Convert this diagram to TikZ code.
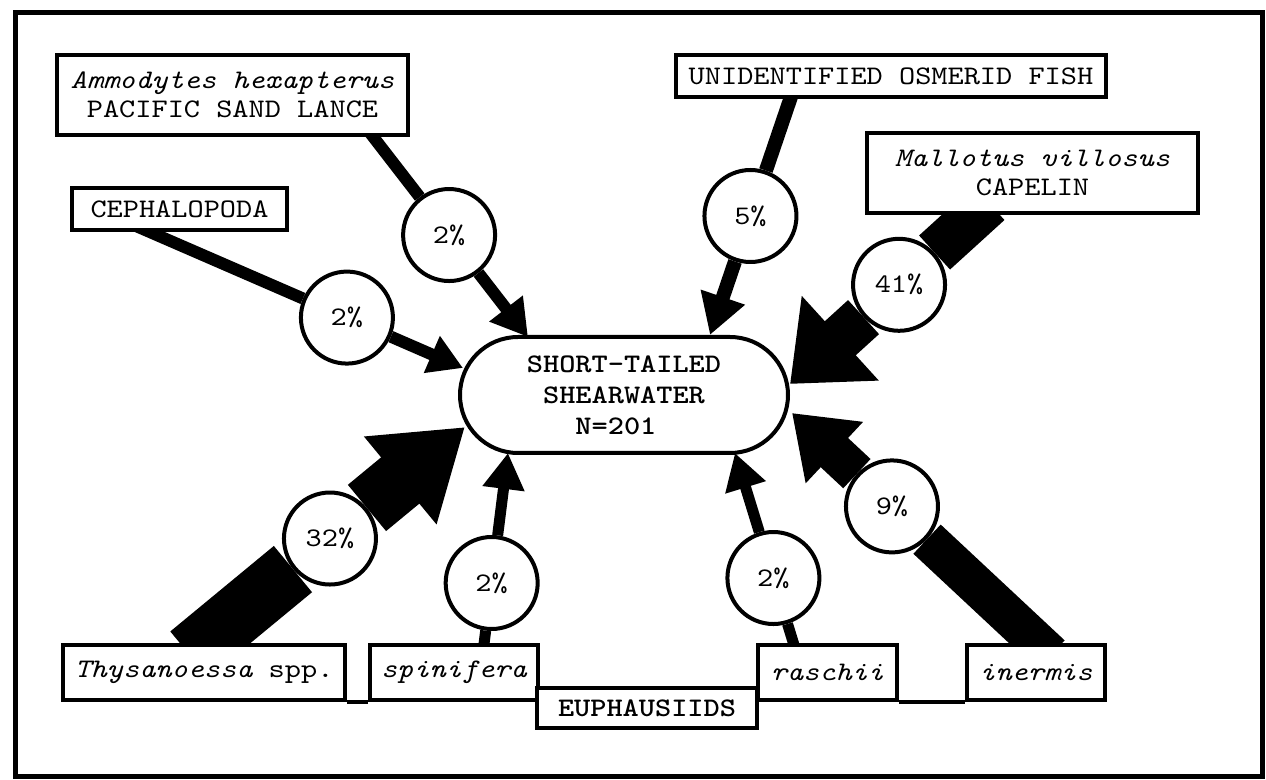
\documentclass[tikz,border=0pt]{standalone}
\usepackage{fontspec}
\setmonofont{lmmono10-regular.otf}[ItalicFont=lmmono10-italic.otf,BoldFont=lmmonolt10-bold.otf,FakeStretch=1.15]
\usetikzlibrary{arrows.meta,shapes.misc,calc}
\pgfdeclarelayer{back}
\pgfsetlayers{back,main}

\begin{document}
\begin{tikzpicture}[x=0.5pt,y=-0.5pt,
				every node/.style={font=\ttfamily\fontsize{13.4}{14.5}\selectfont,inner sep=0pt},
				box/.style={draw,line width=2pt,fill=white,align=center},
				pct/.style={circle,draw,line width=2pt,fill=white,minimum size=46pt},
				bar/.style={line width=#1},
				flow/.style n args={3}{line width=#1,-{Triangle[length=#2,width=#3]}}]
\useasboundingbox (0,0) rectangle (1266,780);
\draw[line width=2.5pt] (15,12.5) rectangle (1262,777);

% prey boxes
\node[box,minimum width=175.5pt,minimum height=40pt] (sand) at (232.5,95) {{\itshape Ammodytes hexapterus}\\PACIFIC SAND LANCE};
\node[box,minimum width=107.5pt,minimum height=21pt] (ceph) at (179.5,209) {CEPHALOPODA};
\node[box,minimum width=215pt,minimum height=21pt] (osm) at (891,76) {UNIDENTIFIED OSMERID FISH};
\node[box,minimum width=165.5pt,minimum height=40pt] (cap) at (1032.5,173) {{\itshape Mallotus villosus}\\CAPELIN};
\node[box,minimum width=141pt,minimum height=27.5pt] (thys) at (204,672.5) {{\itshape Thysanoessa} spp.};
\node[box,minimum width=84pt,minimum height=27.5pt] (spin) at (454,672.5) {\itshape spinifera};
\node[box,minimum width=69.5pt,minimum height=27.5pt] (rasc) at (827.5,672.5) {\itshape raschii};
\node[box,minimum width=69pt,minimum height=27.5pt] (iner) at (1036,672.5) {\itshape inermis};
\node[box,minimum width=110pt,minimum height=20pt,font=\ttfamily\bfseries\fontsize{13.4}{14.5}\selectfont] (euph) at (647,708) {EUPHAUSIIDS};
\draw[line width=2pt] (thys.south east) -- (spin.south west) (rasc.south east) -- (iner.south west);

% predator
\node[draw,rounded rectangle,line width=2pt,fill=white,minimum width=164pt,minimum height=58pt,align=center,
	font=\ttfamily\bfseries\fontsize{13.4}{15.5}\selectfont] (bird) at (624,395) {SHORT-TAILED\\SHEARWATER\\N=201\phantom{2}};

% bar ends
\coordinate (s1) at (136,226);    \coordinate (t1) at (463,368);
\coordinate (s2) at (364,125);    \coordinate (t2) at (528,337);
\coordinate (s3) at (795,85);     \coordinate (t3) at (710,335);
\coordinate (s4) at (989,203);    \coordinate (t4) at (790,384);
\coordinate (s5) at (189.4,654.6);\coordinate (t5) at (465,427);
\coordinate (s6) at (482,660);    \coordinate (t6) at (508,453);
\coordinate (s7) at (798.4,659.3);\coordinate (t7) at (735,453);
\coordinate (s8) at (1051,655);   \coordinate (t8) at (792,413);

% percentages
\node[pct] (pceph) at ($(s1)!0.645!(t1)$) {2\%};
\node[pct] (psand) at ($(s2)!0.519!(t2)$) {2\%};
\node[pct] (posm) at ($(s3)!0.524!(t3)$) {5\%};
\node[pct] (pcap) at ($(s4)!0.452!(t4)$) {41\%};
\node[pct] (pthys) at ($(s5)!0.51!(t5)$) {32\%};
\node[pct] (pspin) at ($(s6)!0.372!(t6)$) {2\%};
\node[pct] (prasc) at ($(s7)!0.394!(t7)$) {2\%};
\node[pct] (piner) at ($(s8)!0.614!(t8)$) {9\%};

\begin{pgfonlayer}{back}
\draw[bar=6pt] (s1) -- (pceph);   \draw[flow={6pt}{17pt}{19pt}] (pceph) -- (t1);
\draw[bar=6pt] (s2) -- (psand);   \draw[flow={6pt}{18pt}{20pt}] (psand) -- (t2);
\draw[bar=7pt] (s3) -- (posm);    \draw[flow={7pt}{20pt}{22pt}] (posm) -- (t3);
\draw[bar=23pt] (s4) -- (pcap);   \draw[flow={23pt}{34pt}{55pt}] (pcap) -- (t4);
\draw[bar=30pt] (s5) -- (pthys);  \draw[flow={30pt}{42pt}{54pt}] (pthys) -- (t5);
\draw[bar=5.5pt] (s6) -- (pspin); \draw[flow={5.5pt}{18pt}{20pt}] (pspin) -- (t6);
\draw[bar=5.5pt] (s7) -- (prasc); \draw[flow={5.5pt}{18pt}{20pt}] (prasc) -- (t7);
\draw[bar=20pt] (s8) -- (piner);  \draw[flow={20pt}{29pt}{40pt}] (piner) -- (t8);
\end{pgfonlayer}
\end{tikzpicture}
\end{document}
